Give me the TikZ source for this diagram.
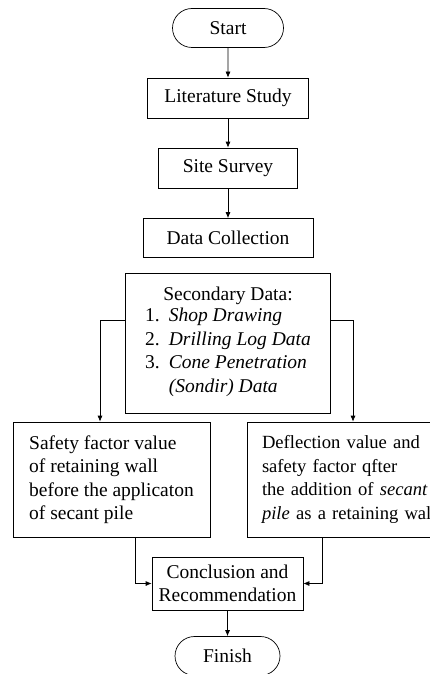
\documentclass[tikz,border=0pt]{standalone}
\usepackage{fontspec}
\setmainfont{Liberation Serif}
\usetikzlibrary{arrows.meta,shapes.misc}
\begin{document}
\begin{tikzpicture}[x=1pt,y=1pt,line width=0.7pt,
		every node/.style={font=\fontsize{19.5}{23.5}\selectfont},
		procbox/.style={draw,rectangle,inner sep=0pt},
		termbox/.style={draw,rounded rectangle,inner sep=0pt,minimum height=39pt},
		flow/.style={-{Latex[length=6pt,width=5pt]}}]
		\useasboundingbox (0,0) rectangle (430,-674);
		\node [termbox,minimum width=111pt] (start) at (228,-28) {Start};
		\node [procbox,minimum width=161pt,minimum height=40pt] (lit) at (228,-98) {Literature Study};
		\node [procbox,minimum width=139pt,minimum height=40pt] (site) at (228,-168) {Site Survey};
		\node [procbox,minimum width=170pt,minimum height=39pt] (coll) at (228,-238) {Data Collection};
		\node [procbox,minimum width=205pt,minimum height=140pt,align=center] (sec) at (228,-343) {Secondary Data:\\
			\begin{tabular}{@{}l@{\hspace{9pt}}l@{}}
				1. & \textit{Shop Drawing}\\
				2. & \textit{Drilling Log Data}\\
				3. & \textit{Cone Penetration}\\
				 & \textit{(Sondir) Data}
			\end{tabular}};
		\node [procbox,minimum width=197pt,minimum height=115pt,align=left] (before) at (111.5,-479.5) {Safety factor value\\of retaining wall\\before the applicaton\\of secant pile};
		\node [procbox,minimum width=208pt,minimum height=115pt,text width=178pt,align=left,font=\fontsize{18.6}{23.5}\selectfont] (after) at (351,-479.5) {Deflection value and\\safety factor qfter\\the addition of \textit{secant}\\\textit{pile} as a retaining wall};
		\node [procbox,minimum width=151pt,minimum height=53pt,align=center] (concl) at (227.5,-583.5) {Conclusion and\\Recommendation};
		\node [termbox,minimum width=105pt] (finish) at (227.5,-656) {Finish};
		% main line
		\draw [flow] (start) -- (lit);
		\draw [flow] (lit) -- (site);
		\draw [flow] (site) -- (coll);
		% branches
		\draw [flow] ([yshift=23pt]sec.west) -| ([xshift=-11.5pt]before.north);
		\draw [flow] ([yshift=23pt]sec.east) -| ([xshift=2pt]after.north);
		\draw [flow] ([xshift=23.5pt]before.south) |- (concl.west);
		\draw [flow] ([xshift=-29pt]after.south) |- (concl.east);
		\draw [flow] (concl) -- (finish);
	\end{tikzpicture}
\end{document}
